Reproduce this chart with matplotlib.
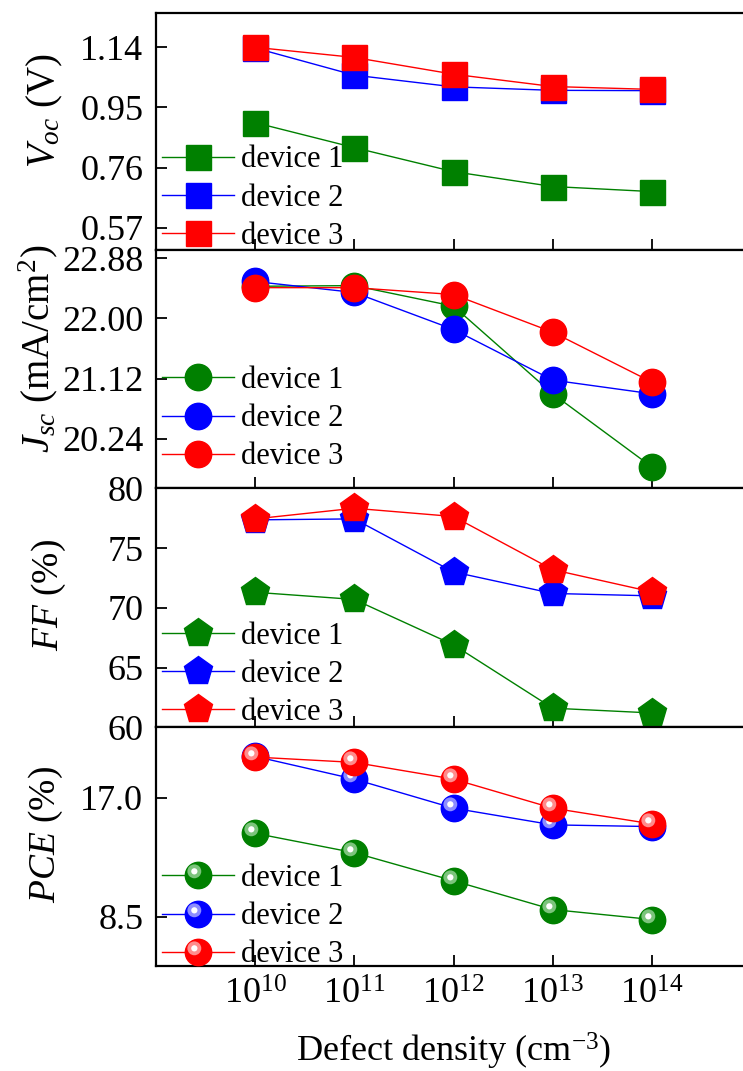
import numpy as np
import matplotlib
matplotlib.use("Agg")
from matplotlib import pyplot as plt
from matplotlib.markers import MarkerStyle
from matplotlib.transforms import Affine2D
from matplotlib.ticker import FormatStrFormatter, NullLocator

plt.rcParams['font.family'] = 'Liberation Serif'
plt.rcParams['mathtext.fontset'] = 'custom'
plt.rcParams['mathtext.rm'] = 'Liberation Serif'
plt.rcParams['mathtext.it'] = 'Liberation Serif:italic'
plt.rcParams['mathtext.bf'] = 'Liberation Serif:bold'

# data
density = [1e10, 1e11, 1e12, 1e13, 1e14]
devices = ["device 1", "device 2", "device 3"]
colors = ["#008000", "#0000ff", "#ff0000"]
lightColors = ["#7cc47c", "#8c8cff", "#ff8c8c"]

voc_d1 = [0.902, 0.823, 0.747, 0.700, 0.684]
voc_d2 = [1.138, 1.052, 1.015, 1.004, 1.003]
voc_d3 = [1.140, 1.108, 1.055, 1.016, 1.007]

jsc_d1 = [22.47, 22.48, 22.18, 20.90, 19.83]
jsc_d2 = [22.54, 22.38, 21.84, 21.10, 20.90]
jsc_d3 = [22.45, 22.45, 22.35, 21.80, 21.07]

ff_d1 = [71.3, 70.7, 66.9, 61.6, 61.2]
ff_d2 = [77.36, 77.44, 73.0, 71.2, 71.0]
ff_d3 = [77.44, 78.33, 77.64, 73.19, 71.33]

pce_d1 = [14.45, 13.07, 11.07, 9.02, 8.31]
pce_d2 = [19.93, 18.31, 16.24, 15.05, 14.93]
pce_d3 = [19.88, 19.50, 18.31, 16.24, 15.12]

voc_ticks = [0.57, 0.76, 0.95, 1.14]
jsc_ticks = [20.24, 21.12, 22.00, 22.88]
ff_ticks = [60, 65, 70, 75, 80]
pce_ticks = [8.5, 17.0]

W, H = 743, 1071
fig = plt.figure(figsize=(W / 100, H / 100), dpi=100)

left = 155.75 / W
width = (751.25 - 155.75) / W
tops = [12.5, 250.0, 488.3, 727.3]
bottoms = [249.8, 488.3, 727.3, 966.0]

panels = [
    ([voc_d1, voc_d2, voc_d3], 's', 18, (0.50, 1.25), voc_ticks, '%.2f',
     r'$V_{oc}$ (V)', 0.585, -0.03, 28),
    ([jsc_d1, jsc_d2, jsc_d3], 'o', 19, (19.52, 23.0), jsc_ticks, '%.2f',
     r'$J_{sc}$ (mA/cm$^{2}$)', 0.585, 0.045, 28),
    ([ff_d1, ff_d2, ff_d3], 'p', 21.5, (60, 80), ff_ticks, '%d',
     r'$FF$ (%)', 0.553, -0.025, 27),
    ([pce_d1, pce_d2, pce_d3], 'o', 19, (5.0, 22.0), pce_ticks, '%.1f',
     r'$PCE$ (%)', 0.553, -0.04, 27),
]

labelX = [-0.153, -0.16, -0.148, -0.153]

for k, (series, mk, ms, ylim, yticks, fmt, ylabel, ly, legY, lsize) in enumerate(panels):
    ax = fig.add_axes([left, (H - bottoms[k]) / H, width, (bottoms[k] - tops[k]) / H])
    handles = []
    for i in range(3):
        line, = ax.plot(density, series[i], '-', color=colors[i], lw=1.0,
                        marker=mk, ms=ms, mfc=colors[i], mec=colors[i],
                        clip_on=False, zorder=3 + i)
        if k == 3:
            # shiny ball look
            ring = MarkerStyle('o', transform=Affine2D().translate(-3.0 / 10, 3.0 / 10))
            dot = MarkerStyle('o', transform=Affine2D().translate(-3.0 / 4.5, 3.0 / 4.5))
            l2, = ax.plot(density, series[i], ls='none', marker=ring, ms=10,
                          mfc=lightColors[i], mec='none', clip_on=False, zorder=3 + i)
            l3, = ax.plot(density, series[i], ls='none', marker=dot, ms=4.5,
                          mfc='white', mec='none', clip_on=False, zorder=3 + i)
            handles.append((line, l2, l3))
        else:
            handles.append(line)

    ax.set_xscale('log')
    ax.set_xlim(1e9, 1e15)
    ax.set_xticks(density)
    ax.xaxis.set_minor_locator(NullLocator())
    ax.set_ylim(*ylim)
    ax.set_yticks(yticks)
    ax.yaxis.set_major_formatter(FormatStrFormatter(fmt))

    ax.tick_params(axis='both', direction='in', length=8, width=1.3,
                   labelsize=26, pad=9)
    if k < 3:
        ax.tick_params(axis='x', labelbottom=False)
    for s in ax.spines.values():
        s.set_linewidth(1.6)

    ax.set_ylabel(ylabel, fontsize=lsize)
    ax.yaxis.set_label_coords(labelX[k], ly)

    ax.legend(handles, devices, loc='lower left', bbox_to_anchor=(0.0, legY),
              frameon=False, fontsize=22, handlelength=2.35, handletextpad=0.25,
              labelspacing=0.3, borderpad=0.0, borderaxespad=0.2, numpoints=1)

    if k == 3:
        ax.set_xlabel(r'Defect density (cm$^{-3}$)', fontsize=26, labelpad=14)

fig.savefig("out.png", dpi=100)
